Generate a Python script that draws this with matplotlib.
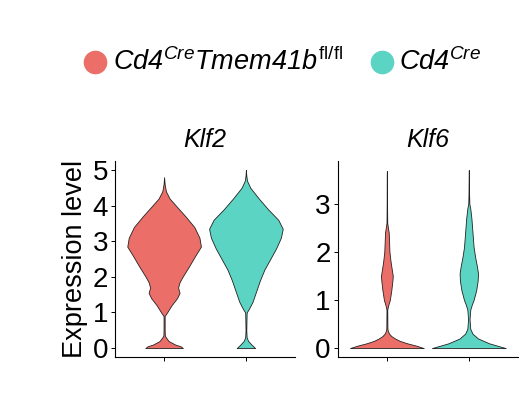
import matplotlib
matplotlib.use("Agg")
import matplotlib.pyplot as plt
from matplotlib.lines import Line2D
import numpy as np

plt.rcParams['font.family'] = ['Liberation Sans', 'DejaVu Sans']
plt.rcParams['mathtext.fontset'] = 'custom'
plt.rcParams['mathtext.it'] = 'Liberation Sans:italic'
plt.rcParams['mathtext.rm'] = 'Liberation Sans:italic'
plt.rcParams['mathtext.sf'] = 'Liberation Sans'

groups = ["Cd4Cre Tmem41b fl/fl", "Cd4Cre"]
colors = ["#EC6E68", "#5BD4C4"]
genes = ["Klf2", "Klf6"]

# Violin profiles: expression levels and relative density widths
klf2_red_y = [0.0, 0.05, 0.1, 0.2, 0.3, 0.35, 0.5, 0.9, 1.0, 1.2, 1.4, 1.55, 1.7, 1.85, 2.0, 2.3, 2.6, 2.85, 3.1, 3.4, 3.7, 4.0, 4.2, 4.4, 4.6, 4.8]
klf2_red_w = [0.51, 0.45, 0.3, 0.12, 0.05, 0.02, 0.015, 0.015, 0.08, 0.2, 0.35, 0.42, 0.38, 0.42, 0.5, 0.68, 0.85, 1.0, 0.96, 0.82, 0.58, 0.32, 0.15, 0.05, 0.015, 0.0]
klf2_teal_y = [0.0, 0.1, 0.2, 0.3, 0.5, 1.0, 1.1, 1.3, 1.6, 1.9, 2.2, 2.5, 2.8, 3.1, 3.35, 3.6, 3.9, 4.2, 4.5, 4.7, 4.85, 5.0]
klf2_teal_w = [0.25, 0.15, 0.06, 0.02, 0.01, 0.02, 0.08, 0.18, 0.28, 0.38, 0.5, 0.66, 0.82, 0.95, 1.0, 0.88, 0.6, 0.35, 0.12, 0.03, 0.01, 0.0]
klf6_red_y = [0.0, 0.05, 0.1, 0.15, 0.2, 0.25, 0.3, 0.35, 0.4, 0.8, 0.9, 1.0, 1.2, 1.4, 1.5, 1.6, 1.8, 2.0, 2.2, 2.4, 2.5, 2.6, 3.0, 3.6, 3.68]
klf6_red_w = [1.0, 0.8, 0.55, 0.35, 0.22, 0.12, 0.06, 0.03, 0.015, 0.01, 0.04, 0.08, 0.12, 0.15, 0.16, 0.14, 0.1, 0.07, 0.06, 0.05, 0.03, 0.01, 0.005, 0.003, 0.0]
klf6_teal_y = [0.0, 0.1, 0.2, 0.3, 0.4, 0.6, 0.8, 0.9, 1.0, 1.2, 1.4, 1.55, 1.7, 1.9, 2.1, 2.4, 2.7, 2.9, 3.0, 3.2, 3.6, 3.7]
klf6_teal_w = [1.0, 0.55, 0.25, 0.1, 0.04, 0.02, 0.04, 0.08, 0.13, 0.2, 0.24, 0.25, 0.22, 0.17, 0.13, 0.1, 0.07, 0.04, 0.015, 0.008, 0.003, 0.0]

y_max = [5.0, 3.7]
y_ticks = [[0, 1, 2, 3, 4, 5], [0, 1, 2, 3]]
profiles = [[(klf2_red_y, klf2_red_w), (klf2_teal_y, klf2_teal_w)],
            [(klf6_red_y, klf6_red_w), (klf6_teal_y, klf6_teal_w)]]

fig = plt.figure(figsize=(5.19, 3.93), dpi=100)
ax_pos = [[0.2216, 0.0916, 0.3468, 0.4984], [0.6507, 0.0916, 0.3473, 0.4984]]
half_max = 0.45

for gi, gene in enumerate(genes):
    ax = fig.add_axes(ax_pos[gi])
    for k, (ys, ws) in enumerate(profiles[gi]):
        ys = np.asarray(ys)
        ws = np.asarray(ws) * half_max
        xc = k + 1
        ax.fill_betweenx(ys, xc - ws, xc + ws, facecolor=colors[k],
                         edgecolor='#222222', linewidth=0.6)
    rng = y_max[gi]
    ax.set_ylim(-0.05 * rng, rng * 1.05)
    ax.set_xlim(0.4, 2.6)
    ax.set_xticks([1, 2])
    ax.set_xticklabels([])
    ax.set_yticks(y_ticks[gi])
    ax.tick_params(axis='y', labelsize=20, length=3, width=0.7, pad=2)
    ax.tick_params(axis='x', length=3, width=0.7)
    for s in ['top', 'right']:
        ax.spines[s].set_visible(False)
    for s in ['left', 'bottom']:
        ax.spines[s].set_linewidth(0.8)
    ax.set_title(gene, fontsize=18, style='italic', pad=10)
    if gi == 0:
        ax.set_ylabel('Expression level', fontsize=19.5, labelpad=3)

# legend
ly = 1 - 62 / 393
fig.add_artist(Line2D([95 / 519], [ly], marker='o', markersize=16, color=colors[0],
                      linestyle='none', transform=fig.transFigure))
fig.text(113 / 519, ly, r'$\mathit{Cd4}^{\mathit{Cre}}\mathit{Tmem41b}^{\mathsf{fl/fl}}$',
         fontsize=19.5, ha='left', va='center')
fig.add_artist(Line2D([382 / 519], [ly], marker='o', markersize=16, color=colors[1],
                      linestyle='none', transform=fig.transFigure))
fig.text(399 / 519, ly, r'$\mathit{Cd4}^{\mathit{Cre}}$',
         fontsize=19.5, ha='left', va='center')

fig.savefig('out.png', dpi=100)
